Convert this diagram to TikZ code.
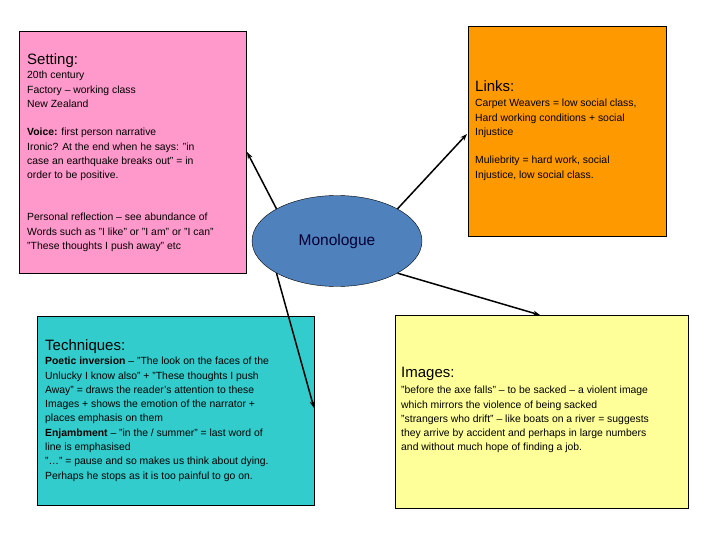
\documentclass[tikz,border=0pt]{standalone}
\usepackage{fontspec}
\setmainfont{Liberation Sans}
\usetikzlibrary{shapes.geometric,arrows.meta}
\begin{document}
\begin{tikzpicture}[x=1pt,y=-1pt,
 box/.style={draw=black,line width=0.6pt,anchor=north west,inner sep=0pt},
 txt/.style={anchor=north west,align=left,inner sep=0pt,font=\fontsize{10.4}{14.3}\selectfont},
 hd/.style={anchor=north west,inner sep=0pt,font=\fontsize{15}{16}\selectfont},
 arr/.style={-{Stealth[length=7pt,width=5pt]},line width=1.5pt}]
\useasboundingbox (0,0) rectangle (720,540);
\definecolor{pk}{RGB}{255,153,204}
\definecolor{og}{RGB}{255,153,0}
\definecolor{cy}{RGB}{51,204,204}
\definecolor{yl}{RGB}{255,255,153}
\definecolor{bl}{RGB}{79,129,189}
\fill[pk,draw=black] (19,31) rectangle (246,273); \coordinate (setp) at (247,152);
\fill[og,draw=black] (468,26) rectangle (666,236); \coordinate (linkp) at (467,134);
\fill[cy,draw=black] (37,316) rectangle (314,505); \coordinate (techp) at (314,408);
\fill[yl,draw=black] (395,315) rectangle (688,508); \coordinate (imgp) at (540,315);
\node[hd] (sh) at (27,53) {Setting:};
\node[txt] (st) at (27,71) {20th century\\Factory -- working class\\New Zealand};
\node[txt] (sv) at (27,128) {\textbf{Voice:} first person narrative\\Ironic? At the end when he says: ''in\\case an earthquake breaks out'' = in\\order to be positive.};
\node[txt] (sp) at (27,213) {Personal reflection -- see abundance of\\Words such as ''I like'' or ''I am'' or ''I can''\\''These thoughts I push away'' etc};
\node[hd] (lh) at (475,80) {Links:};
\node[txt] (lt) at (475,99) {Carpet Weavers = low social class,\\Hard working conditions + social\\Injustice\\[14.3pt]Muliebrity = hard work, social\\Injustice, low social class.};
\node[hd] (th) at (45,339) {Techniques:};
\node[txt] (tt) at (45,357) {\textbf{Poetic inversion} -- ''The look on the faces of the\\Unlucky I know also'' + ''These thoughts I push\\Away'' = draws the reader's attention to these\\Images + shows the emotion of the narrator +\\places emphasis on them\\\textbf{Enjambment} -- ''in the / summer'' = last word of\\line is emphasised\\''\dots'' = pause and so makes us think about dying.\\Perhaps he stops as it is too painful to go on.};
\node[hd] (ih) at (401,367) {Images:};
\node[txt] (it) at (401,386) {''before the axe falls'' -- to be sacked -- a violent image\\which mirrors the violence of being sacked\\''strangers who drift'' -- like boats on a river = suggests\\they arrive by accident and perhaps in large numbers\\and without much hope of finding a job.};
\node[ellipse,draw=black,fill=bl,minimum width=170pt,minimum height=91pt,inner sep=0pt,font=\fontsize{15.5}{16}\selectfont,text=black!80!blue] (m) at (337,241) {Monologue};
\draw[arr] (m.152) -- (setp);
\draw[arr] (m.28) -- (linkp);
\draw[arr] (m.208) -- (techp);
\draw[arr] (m.-28) -- (imgp);
\end{tikzpicture}
\end{document}
